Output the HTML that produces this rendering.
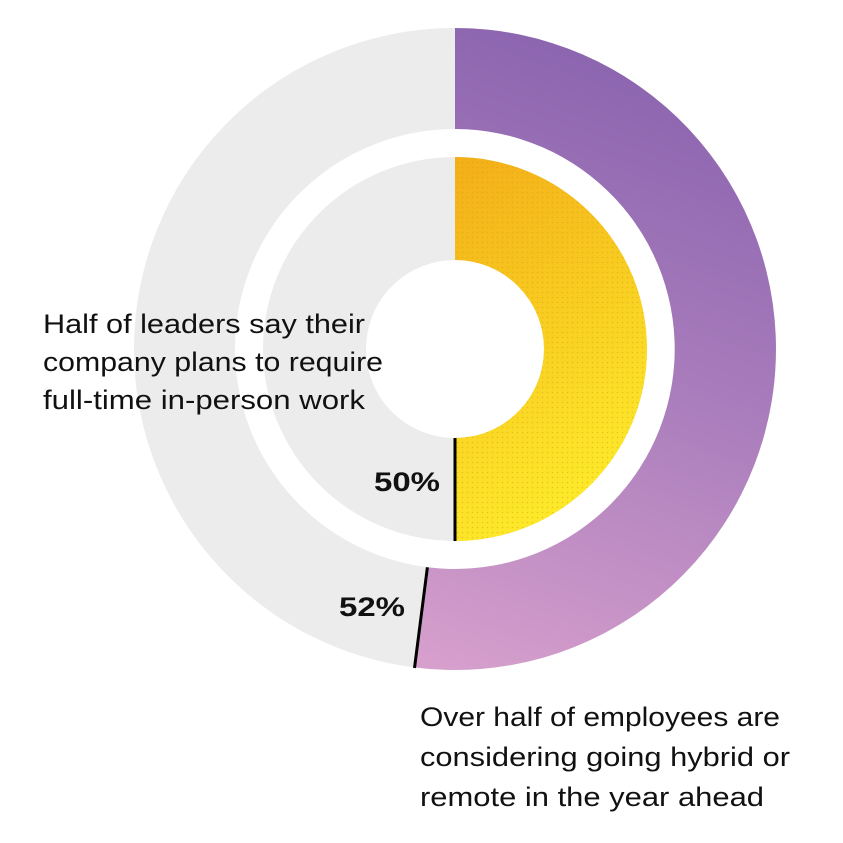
<!DOCTYPE html>
<html><head><meta charset="utf-8"><style>
html,body{margin:0;padding:0;background:#fff;}
svg{display:block;}
text{font-family:"Liberation Sans",sans-serif;fill:#111;}
</style></head><body>
<svg width="843" height="843" viewBox="0 0 843 843">
<defs>
<linearGradient id="pg" x1="0.3" y1="0" x2="0.1" y2="1">
<stop offset="0" stop-color="#8c65b0"/>
<stop offset="0.5" stop-color="#ac7fbd"/>
<stop offset="1" stop-color="#d69fcc"/>
</linearGradient>
<linearGradient id="yg" x1="0" y1="0" x2="0.3" y2="1">
<stop offset="0" stop-color="#f3ae18"/>
<stop offset="1" stop-color="#fdea2a"/>
</linearGradient>
<pattern id="dots" width="5" height="5" patternUnits="userSpaceOnUse">
<circle cx="2.5" cy="2.5" r="0.8" fill="#d89a10" opacity="0.45"/>
</pattern>
</defs>
<circle cx="455" cy="349" r="270.5" fill="none" stroke="#ececec" stroke-width="101"/>
<circle cx="455" cy="349" r="140.5" fill="none" stroke="#ececec" stroke-width="103"/>
<path d="M455,28 A321,321 0 1 1 415,667.5 L427.4,567.3 A220,220 0 1 0 455,129 Z" fill="url(#pg)"/>
<path d="M455,157 A192,192 0 0 1 455,541 L455,438 A89,89 0 0 0 455,260 Z" fill="url(#yg)"/>
<path d="M455,157 A192,192 0 0 1 455,541 L455,438 A89,89 0 0 0 455,260 Z" fill="url(#dots)"/>
<line x1="455" y1="438" x2="455" y2="541" stroke="#000" stroke-width="3"/>
<line x1="427.4" y1="567.3" x2="414.5" y2="668" stroke="#000" stroke-width="3"/>
<text x="43" y="333" font-size="27" textLength="322" lengthAdjust="spacingAndGlyphs">Half of leaders say their</text>
<text x="43" y="371" font-size="27" textLength="340" lengthAdjust="spacingAndGlyphs">company plans to require</text>
<text x="43" y="409" font-size="27" textLength="322" lengthAdjust="spacingAndGlyphs">full-time in-person work</text>
<text x="374" y="491" font-size="27" font-weight="bold" textLength="66" lengthAdjust="spacingAndGlyphs">50%</text>
<text x="339" y="616" font-size="27" font-weight="bold" textLength="66" lengthAdjust="spacingAndGlyphs">52%</text>
<text x="420" y="726" font-size="27" textLength="360" lengthAdjust="spacingAndGlyphs">Over half of employees are</text>
<text x="420" y="766" font-size="27" textLength="370" lengthAdjust="spacingAndGlyphs">considering going hybrid or</text>
<text x="420" y="806" font-size="27" textLength="344" lengthAdjust="spacingAndGlyphs">remote in the year ahead</text>
</svg>
</body></html>
